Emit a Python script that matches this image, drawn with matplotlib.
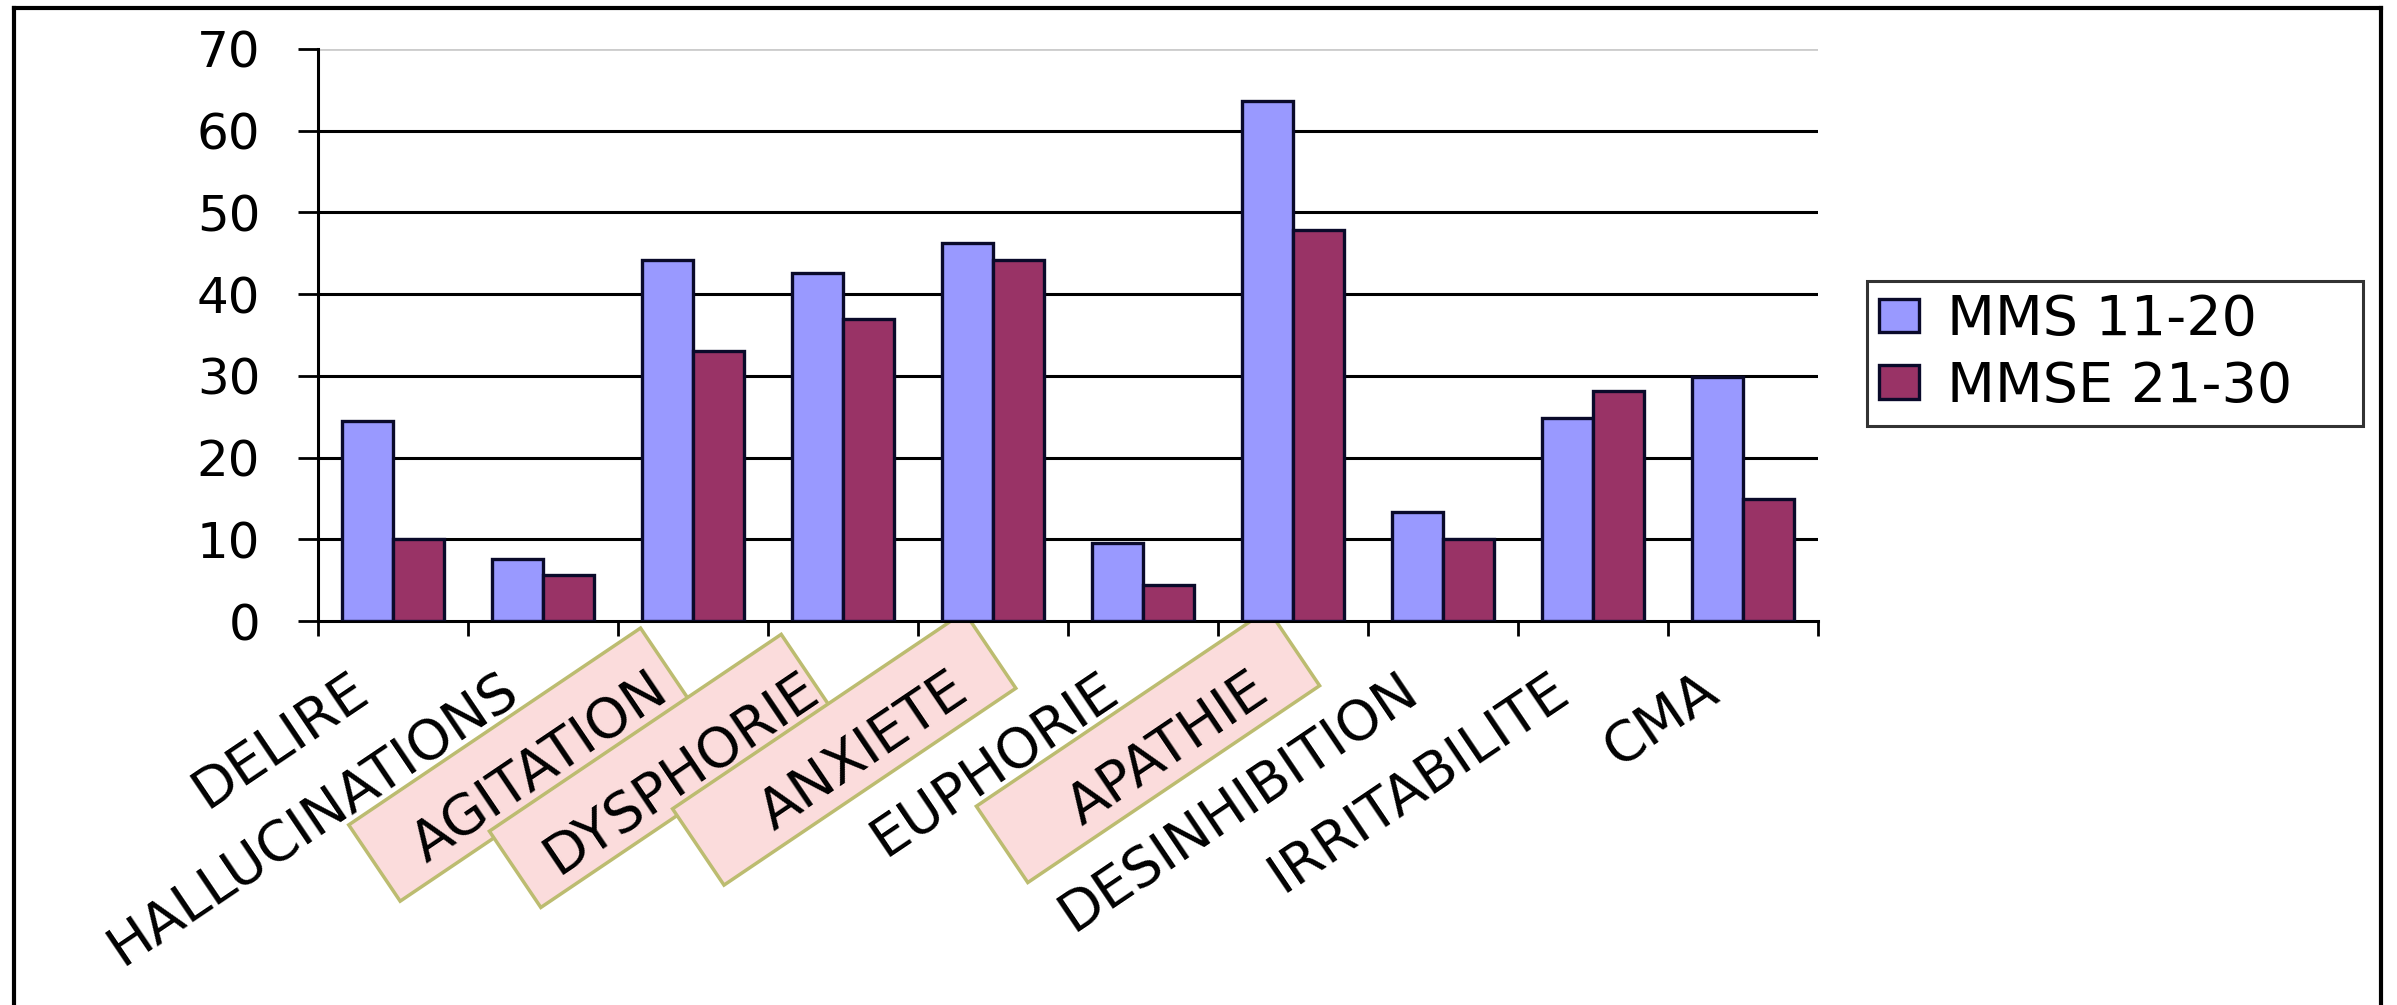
import numpy as np
import matplotlib
matplotlib.use('Agg')
import matplotlib.pyplot as plt
from matplotlib.patches import Rectangle
from matplotlib.lines import Line2D
from matplotlib.transforms import Affine2D, ScaledTranslation

plt.rcParams['font.family'] = ['DejaVu Sans']

categories = ['DELIRE', 'HALLUCINATIONS', 'AGITATION', 'DYSPHORIE', 'ANXIETE',
              'EUPHORIE', 'APATHIE', 'DESINHIBITION', 'IRRITABILITE', 'CMA']
mms_11_20 = [24.5, 7.6, 44.2, 42.6, 46.2, 9.6, 63.6, 13.3, 24.9, 29.8]
mmse_21_30 = [10.0, 5.6, 33.0, 37.0, 44.2, 4.4, 47.9, 10.0, 28.1, 14.9]
series_names = ['MMS 11-20', 'MMSE 21-30']
highlighted = ['AGITATION', 'DYSPHORIE', 'ANXIETE', 'APATHIE']
yticks = [0, 10, 20, 30, 40, 50, 60, 70]

W, H = 2397, 1005
fig = plt.figure(figsize=(W / 100, H / 100), dpi=100)
ax = fig.add_axes([318 / W, 1 - 621 / H, 1500 / W, 572 / H])
ax.set_facecolor('none')

x = np.arange(len(categories)) + 0.5
bw = 0.34
ax.bar(x - bw / 2, mms_11_20, bw, color='#9999ff', edgecolor='#0a0a2a', lw=2.4,
       label=series_names[0], zorder=3)
ax.bar(x + bw / 2, mmse_21_30, bw, color='#993366', edgecolor='#0a0a2a', lw=2.4,
       label=series_names[1], zorder=3)

ax.set_xlim(0, len(categories))
ax.set_ylim(0, 70)
ax.set_yticks(yticks)
ax.tick_params(axis='y', labelsize=36, length=14.5, width=2, pad=27, direction='out')

# gridlines
for v in yticks[1:-1]:
    ax.axhline(v, color='black', lw=2.2, zorder=1)
ax.axhline(70, color='#cccccc', lw=2, zorder=1)

for s in ['top', 'right']:
    ax.spines[s].set_visible(False)
for s in ['left', 'bottom']:
    ax.spines[s].set_linewidth(2.2)

# ticks between groups, labels at the centres
ax.set_xticks(np.arange(len(categories) + 1))
ax.set_xticklabels([])
ax.tick_params(axis='x', which='major', length=11, width=2, direction='out')
ax.set_xticks(x, minor=True)
ax.set_xticklabels(categories, minor=True, rotation=34, ha='right', va='center',
                   rotation_mode='anchor', fontsize=40)
ax.tick_params(axis='x', which='minor', length=0, pad=46)
shift = ScaledTranslation(-0.30, 0, fig.dpi_scale_trans)
for lab in ax.get_xticklabels(minor=True):
    lab.set_transform(lab.get_transform() + shift)

leg = fig.legend(loc='upper left', bbox_to_anchor=(1867 / W, 1 - 426 / H, 496 / W, 145 / H),
                 mode='expand', fontsize=40, frameon=True, fancybox=False,
                 handlelength=0.72, handleheight=0.55, handletextpad=0.5,
                 borderpad=0.22, labelspacing=0.22, borderaxespad=0)
leg.get_frame().set_edgecolor('black')
leg.get_frame().set_linewidth(2.2)

# outer frame of the slide
fig.add_artist(Line2D([14 / W, 14 / W], [0, 1 - 8 / H], color='black', lw=3))
fig.add_artist(Line2D([14 / W, 2381 / W], [1 - 8 / H, 1 - 8 / H], color='black', lw=3))
fig.add_artist(Line2D([2381 / W, 2381 / W], [0, 1 - 8 / H], color='black', lw=3))

# pink boxes behind the highlighted labels
fig.canvas.draw()
for lab in ax.get_xticklabels(minor=True):
    if lab.get_text() in highlighted:
        bb = lab.get_window_extent()
        cx, cy = (bb.x0 + bb.x1) / 2 - 20, (bb.y0 + bb.y1) / 2 + 3
        box = Rectangle((-176, -46), 352, 92,
                        transform=Affine2D().rotate_deg(34).translate(cx, cy),
                        facecolor='#fbdcdc', edgecolor='#bcbc70', lw=2.5, zorder=-1)
        fig.add_artist(box)

fig.savefig('out.png', dpi=100)
